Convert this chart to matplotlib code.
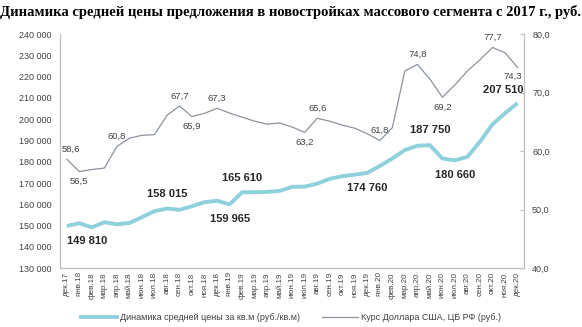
"""Average offer price in mass-market new builds vs USD rate, 2017-2020."""
import matplotlib
matplotlib.use("Agg")
import matplotlib.pyplot as plt
from matplotlib.ticker import FuncFormatter

months = ["дек.17",
          "янв.18", "фев.18", "мар.18", "апр.18", "май.18", "июн.18",
          "июл.18", "авг.18", "сен.18", "окт.18", "ноя.18", "дек.18",
          "янв.19", "фев.19", "мар.19", "апр.19", "май.19", "июн.19",
          "июл.19", "авг.19", "сен.19", "окт.19", "ноя.19", "дек.19",
          "янв.20", "фев.20", "мар.20", "апр.20", "май.20", "июн.20",
          "июл.20", "авг.20", "сен.20", "окт.20", "ноя.20", "дек.20"]

# average price per sq.m, rub
price = [149810,
         151090, 149200, 151560, 150610, 151230, 153930,
         156770, 158015, 157380, 159100, 161000, 161640,
         159965, 165610, 165700, 165800, 166290, 168180,
         168300, 169700, 171950, 173200, 173900, 174760,
         178000, 181500, 185500, 187500, 187750, 181500,
         180660, 182300, 189400, 197600, 202800, 207510]

# CBR USD rate, rub
usd = [58.6,
       56.5, 56.85, 57.1, 60.8, 62.2, 62.7,
       62.8, 66.1, 67.7, 65.9, 66.45, 67.3,
       66.5, 65.8, 65.1, 64.6, 64.8, 64.1,
       63.2, 65.6, 65.1, 64.45, 63.9, 62.95,
       61.8, 64.0, 73.7, 74.8, 72.3, 69.2,
       71.3, 73.7, 75.6, 77.7, 76.8, 74.3]

# (index, position) of labelled points
price_labels = [(0, "below"), (8, "above"), (13, "below"), (14, "above"),
                (24, "below"), (29, "above"), (31, "below"), (36, "end")]
usd_labels = [(0, "above"), (1, "below"), (4, "above"), (9, "above"),
              (10, "below"), (12, "above"), (19, "below"), (20, "above"),
              (25, "above"), (28, "above"), (30, "below"), (34, "above"),
              (36, "end")]

BLUE = "#8FD0DD"
GREY = "#8A939C"
TEXT = "#404040"
AXIS = "#BFBFBF"

plt.rcParams["font.family"] = ["Liberation Sans", "DejaVu Sans"]

fig = plt.figure(figsize=(5.82, 3.27), dpi=100)
ax = fig.add_axes([0.103, 0.18, 0.797, 0.716])
ax2 = ax.twinx()

x = list(range(len(months)))
ax.plot(x, price, color=BLUE, lw=2.8, solid_capstyle="butt", zorder=3)
ax2.plot(x, usd, color=GREY, lw=0.9, zorder=3)

ax.set_xlim(-0.55, len(months) - 0.5)
ax.set_ylim(130000, 240000)
ax.set_yticks(range(130000, 240001, 10000))
ax.yaxis.set_major_formatter(
    FuncFormatter(lambda v, _: f"{int(v):,}".replace(",", " ")))
ax2.set_ylim(40, 80)
ax2.set_yticks([40, 50, 60, 70, 80])
ax2.yaxis.set_major_formatter(
    FuncFormatter(lambda v, _: f"{v:.1f}".replace(".", ",")))

ax.set_xticks(x)
ax.set_xticklabels(months, rotation=90, fontsize=5.8, color=TEXT)
ax.tick_params(axis="x", length=0, pad=3)
ax.tick_params(axis="y", length=0, labelsize=6.5, labelcolor=TEXT, pad=6)
ax2.tick_params(axis="y", length=3, direction="in", color=AXIS,
                labelsize=6.5, labelcolor=TEXT, pad=6)

for a in (ax, ax2):
    a.spines["top"].set_visible(False)
    for side in ("left", "right", "bottom"):
        a.spines[side].set_color(AXIS)
        a.spines[side].set_linewidth(0.8)

for i, pos in price_labels:
    txt = f"{price[i]:,}".replace(",", " ")
    if pos == "above":
        off, va, ha = (0, 7), "bottom", "center"
    elif pos == "below":
        off, va, ha = (0, -7), "top", "center"
    else:
        off, va, ha = (4, 6), "bottom", "right"
    if i == 0:
        off, ha = (0, -7), "left"
    ax.annotate(txt, (i, price[i]), xytext=off, textcoords="offset points",
                ha=ha, va=va, fontsize=8, fontweight="bold", color="#262626")

for i, pos in usd_labels:
    txt = f"{usd[i]:.1f}".replace(".", ",")
    if pos == "above":
        off, va, ha = (0, 4), "bottom", "center"
    elif pos == "below":
        off, va, ha = (0, -4), "top", "center"
    else:
        off, va, ha = (3, -3), "top", "right"
    if i == 0:
        off, ha = (-4, 4), "left"
    ax2.annotate(txt, (i, usd[i]), xytext=off, textcoords="offset points",
                 ha=ha, va=va, fontsize=6.8, color=TEXT)

h1, = ax.plot([], [], color=BLUE, lw=2.8)
h2, = ax.plot([], [], color=GREY, lw=0.9)
fig.legend([h1, h2],
           ["Динамика средней цены за кв.м (руб./кв.м)",
            "Курс Доллара США, ЦБ РФ (руб.)"],
           loc="center", bbox_to_anchor=(0.5, 0.03), ncol=2, frameon=False,
           fontsize=6.5, handlelength=4, columnspacing=2.5,
           handletextpad=0.3, labelcolor=TEXT)

fig.text(0.5, 0.985, "Динамика средней цены предложения в новостройках "
         "массового сегмента с 2017 г., руб.",
         ha="center", va="top", fontsize=10.5, fontweight="bold",
         family=["Liberation Serif", "DejaVu Serif"])

fig.savefig("out.png", dpi=100)
